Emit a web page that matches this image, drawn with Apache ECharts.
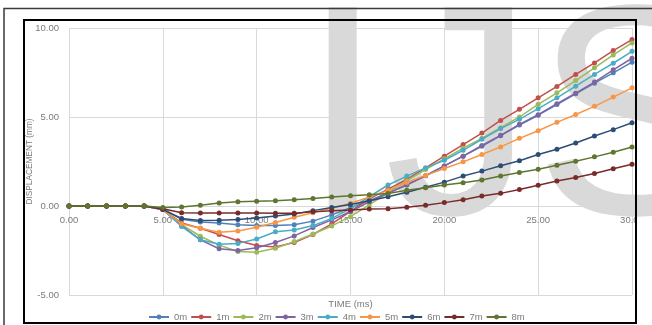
<!DOCTYPE html>
<html>
<head>
<meta charset="utf-8">
<script src="https://cdn.jsdelivr.net/npm/echarts@6/dist/echarts.min.js"></script>
<style>
  html, body { margin: 0; padding: 0; background: #ffffff; }
  #chart { width: 652px; height: 325px; }
</style>
</head>
<body>
<div id="chart"></div>
<script>
// Time samples (ms)
const times = [0, 1, 2, 3, 4, 5, 6, 7, 8, 9, 10, 11, 12, 13, 14, 15, 16, 17, 18, 19, 20, 21, 22, 23, 24, 25, 26, 27, 28, 29, 30];

// Displacement (mm) at each depth
const d0m = [0, 0, 0, 0, 0, -0.15, -0.75, -0.9, -0.95, -1.05, -1.1, -1.1, -1.05, -0.85, -0.5, -0.1, 0.3, 0.75, 1.2, 1.7, 2.25, 2.8, 3.35, 3.95, 4.55, 5.1, 5.7, 6.3, 6.9, 7.48, 8.08];
const d1m = [0, 0, 0, 0, 0, -0.2, -0.95, -1.25, -1.6, -1.95, -2.22, -2.3, -2.05, -1.6, -1.0, -0.3, 0.4, 0.95, 1.49, 2.14, 2.8, 3.45, 4.1, 4.81, 5.43, 6.08, 6.72, 7.39, 8.04, 8.73, 9.35];
const d2m = [0, 0, 0, 0, 0, -0.2, -1.05, -1.7, -2.2, -2.56, -2.6, -2.37, -2.0, -1.57, -1.12, -0.6, 0.06, 0.75, 1.42, 2.05, 2.65, 3.25, 3.8, 4.4, 5.0, 5.71, 6.36, 7.05, 7.76, 8.49, 9.16];
const d3m = [0, 0, 0, 0, 0, -0.2, -1.1, -1.9, -2.4, -2.5, -2.35, -2.05, -1.68, -1.21, -0.78, -0.32, 0.24, 0.71, 1.18, 1.7, 2.25, 2.8, 3.4, 3.97, 4.59, 5.13, 5.75, 6.34, 6.96, 7.65, 8.3];
const d4m = [0, 0, 0, 0, 0, -0.2, -1.15, -1.9, -2.15, -2.1, -1.85, -1.45, -1.35, -1.1, -0.7, -0.15, 0.52, 1.18, 1.68, 2.14, 2.57, 3.13, 3.75, 4.35, 4.87, 5.47, 6.08, 6.73, 7.39, 8.02, 8.69];
const d5m = [0, 0, 0, 0, 0, -0.2, -1.0, -1.25, -1.47, -1.4, -1.19, -0.93, -0.63, -0.38, -0.13, 0.15, 0.5, 0.88, 1.32, 1.72, 2.11, 2.48, 2.89, 3.32, 3.8, 4.23, 4.7, 5.14, 5.6, 6.12, 6.64];
const d6m = [0, 0, 0, 0, 0, -0.2, -0.7, -0.82, -0.8, -0.76, -0.68, -0.56, -0.45, -0.26, -0.09, 0.09, 0.3, 0.52, 0.77, 1.05, 1.34, 1.68, 1.96, 2.26, 2.54, 2.89, 3.19, 3.54, 3.93, 4.29, 4.68];
const d7m = [0, 0, 0, 0, 0, -0.15, -0.38, -0.4, -0.4, -0.4, -0.4, -0.41, -0.41, -0.33, -0.26, -0.22, -0.17, -0.15, -0.07, 0.04, 0.19, 0.35, 0.56, 0.71, 0.93, 1.16, 1.4, 1.6, 1.83, 2.09, 2.35];
const d8m = [0, 0, 0, 0, 0, -0.08, -0.05, 0.04, 0.17, 0.24, 0.27, 0.3, 0.35, 0.42, 0.5, 0.58, 0.63, 0.7, 0.88, 1.03, 1.18, 1.31, 1.46, 1.68, 1.88, 2.07, 2.29, 2.52, 2.76, 3.02, 3.32];

const seriesNames = ['0m', '1m', '2m', '3m', '4m', '5m', '6m', '7m', '8m'];
const seriesValues = [d0m, d1m, d2m, d3m, d4m, d5m, d6m, d7m, d8m];
const seriesColors = ['#4F81BD', '#C0504D', '#9BBB59', '#8064A2', '#4BACC6', '#F79646', '#2C4D75', '#772C2A', '#5F7530'];

const xTicks = [0, 5, 10, 15, 20, 25, 30];
const yTicks = [-5, 0, 5, 10];

const labelColor = '#7a7a7a';
const gridColor = '#d9d9d9';
const font = 'Liberation Sans';

// plot box geometry (px)
const gridTop = 28;
const gridHeight = 267;
// distance from the bottom of the plot up to the zero line, where the time labels sit
const zeroOffset = gridHeight * (0 - yTicks[0]) / (yTicks[yTicks.length - 1] - yTicks[0]);

const chart = echarts.init(document.getElementById('chart'), null, { renderer: 'canvas' });

const series = seriesNames.map((name, i) => ({
  name: name,
  type: 'line',
  data: times.map((t, k) => [t, seriesValues[i][k]]),
  symbol: 'circle',
  symbolSize: 5,
  showSymbol: true,
  lineStyle: { width: 1.5, color: seriesColors[i] },
  itemStyle: { color: seriesColors[i] },
  emphasis: { disabled: true },
  animation: false,
  z: 3 + i
}));

chart.setOption({
  animation: false,
  backgroundColor: '#ffffff',
  textStyle: { fontFamily: font },
  grid: { left: 69, right: 20, top: gridTop, height: gridHeight, containLabel: false, outerBoundsMode: 'none' },
  legend: {
    data: seriesNames,
    top: 307,
    left: 143,
    itemWidth: 20,
    itemHeight: 6,
    itemGap: 3,
    textStyle: { fontSize: 9.5, color: labelColor, fontFamily: font }
  },
  xAxis: {
    type: 'value',
    position: 'bottom',
    offset: -zeroOffset,
    min: xTicks[0],
    max: xTicks[xTicks.length - 1],
    interval: 5,
    name: 'TIME (ms)',
    nameLocation: 'middle',
    nameGap: 93,
    nameMoveOverlap: false,
    nameTextStyle: { fontSize: 9.5, color: labelColor, fontFamily: font },
    axisLine: { onZero: false, lineStyle: { color: gridColor, width: 1 } },
    axisTick: { show: false },
    axisLabel: { fontSize: 9.5, color: labelColor, margin: 9, formatter: v => v.toFixed(2) },
    splitLine: { show: true, lineStyle: { color: gridColor, width: 1 } }
  },
  yAxis: {
    type: 'value',
    min: yTicks[0],
    max: yTicks[yTicks.length - 1],
    interval: 5,
    name: 'DISPLACEMENT (mm)',
    nameLocation: 'middle',
    nameGap: 35,
    nameMoveOverlap: false,
    nameRotate: 90,
    nameTextStyle: { fontSize: 8.3, color: labelColor, fontFamily: font },
    axisLine: { show: false, onZero: false },
    axisTick: { show: false },
    axisLabel: { fontSize: 9.5, color: labelColor, margin: 10, formatter: v => v.toFixed(2) },
    splitLine: { show: true, lineStyle: { color: gridColor, width: 1 } }
  },
  series: series,
  graphic: [
    {
      type: 'rect',
      z: 1,
      silent: true,
      shape: { x: 637, y: 19, width: 20, height: 310 },
      style: { fill: '#ffffff' }
    },
    {
      type: 'text',
      z: 2,
      silent: true,
      style: {
        text: 'IJS',
        x: 301,
        y: 281,
        fill: '#d9d9d9',
        font: '300px "Liberation Sans"',
        verticalAlign: 'bottom'
      }
    },
    {
      type: 'rect',
      z: 51,
      silent: true,
      shape: { x: 24, y: 20, width: 612, height: 303 },
      style: { fill: 'none', stroke: '#000000', lineWidth: 2 }
    },
    {
      type: 'rect',
      z: 51,
      silent: true,
      shape: { x: 4, y: 8.5, width: 660, height: 330 },
      style: { fill: 'none', stroke: '#3a3a3a', lineWidth: 1.5 }
    }
  ]
});
</script>
</body>
</html>
